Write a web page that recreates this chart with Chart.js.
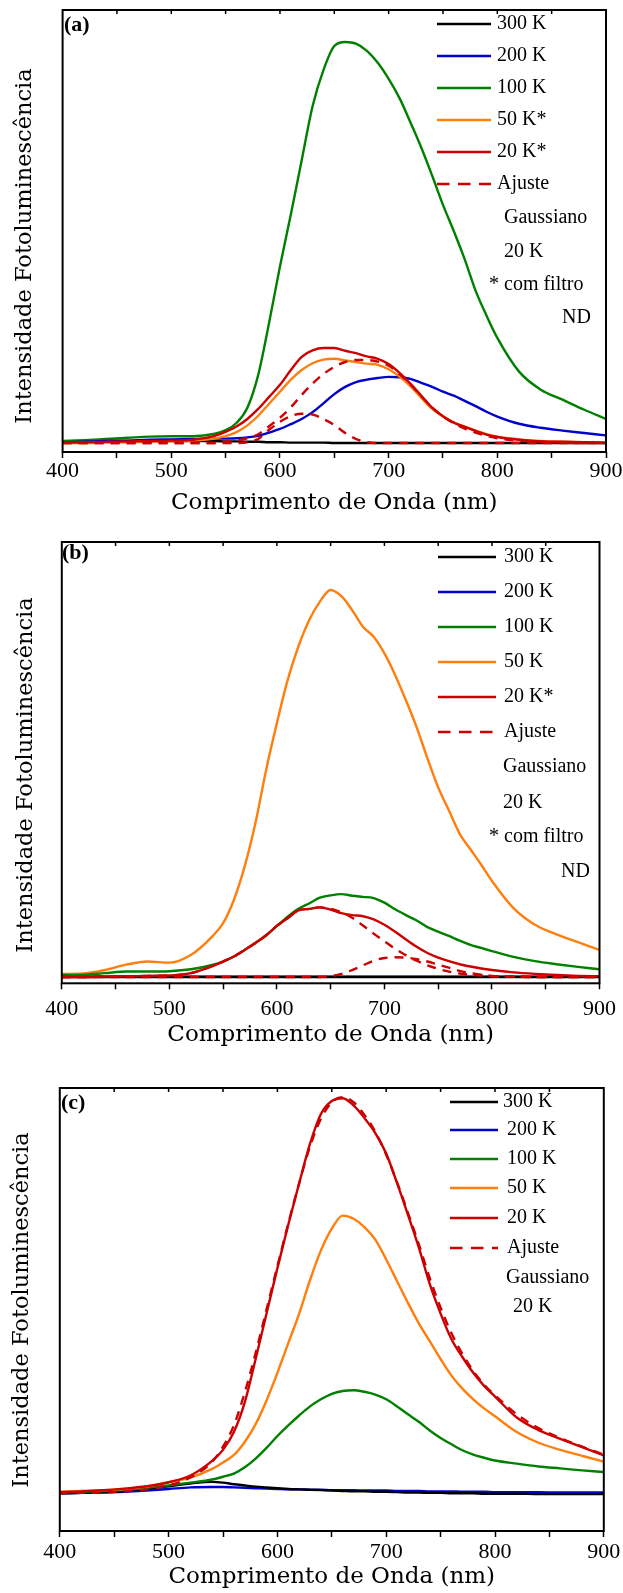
<!DOCTYPE html>
<html lang="pt">
<head>
<meta charset="utf-8">
<title>Fotoluminescência</title>
<script src="https://cdn.jsdelivr.net/npm/chart.js@4.4.1/dist/chart.umd.min.js"></script>
<style>
  html, body { margin: 0; padding: 0; background: #fff; }
  body { width: 623px; height: 1593px; position: relative; overflow: hidden; }
  .panel { position: absolute; left: 0; width: 623px; }
</style>
</head>
<body>
<div class="panel" style="top:0px;height:522px"><canvas id="panelA" width="623" height="522"></canvas></div>
<div class="panel" style="top:522px;height:540px"><canvas id="panelB" width="623" height="540"></canvas></div>
<div class="panel" style="top:1062px;height:531px"><canvas id="panelC" width="623" height="531"></canvas></div>
<script>
// wavelength grid (nm)
const nm = [400, 420, 440, 460, 480, 500, 520, 540,
  550, 560, 570, 580, 590, 600, 610, 620, 630, 640,
  650, 660, 670, 680, 690, 700, 710, 720, 730, 740,
  750, 760, 770, 780, 790, 800,
  820, 840, 860, 880, 900];

const xTicks = [400, 500, 600, 700, 800, 900];

// (a) normalised PL intensity
const a300 = [0.002, 0.003, 0.004, 0.005, 0.005, 0.005, 0.005, 0.005,
  0.004, 0.004, 0.003, 0.003, 0.002, 0.002, 0.001, 0.001, 0.001, 0.001,
  0, 0, 0, 0, 0, 0, 0, 0, 0, 0,
  0, 0, 0, 0, 0, 0,
  0, 0, 0, 0, 0];
const a200 = [0.002, 0.003, 0.005, 0.006, 0.008, 0.009, 0.010, 0.011,
  0.011, 0.012, 0.014, 0.018, 0.026, 0.035, 0.047, 0.060, 0.077, 0.099,
  0.122, 0.140, 0.152, 0.158, 0.162, 0.165, 0.164, 0.160, 0.150, 0.140,
  0.128, 0.118, 0.105, 0.092, 0.078, 0.066,
  0.048, 0.038, 0.031, 0.025, 0.019];
const a100 = [0.005, 0.007, 0.010, 0.013, 0.016, 0.017, 0.017, 0.023,
  0.032, 0.050, 0.088, 0.170, 0.300, 0.440, 0.570, 0.705, 0.840, 0.930,
  0.990, 1.000, 0.996, 0.978, 0.948, 0.908, 0.860, 0.800, 0.737, 0.667,
  0.594, 0.528, 0.458, 0.380, 0.318, 0.262,
  0.178, 0.133, 0.108, 0.083, 0.060];
const a50 = [0.000, 0.000, 0.001, 0.002, 0.003, 0.004, 0.006, 0.011,
  0.017, 0.027, 0.044, 0.068, 0.098, 0.128, 0.158, 0.182, 0.199, 0.208,
  0.210, 0.206, 0.202, 0.198, 0.195, 0.184, 0.166, 0.142, 0.113, 0.085,
  0.066, 0.051, 0.041, 0.031, 0.022, 0.016,
  0.009, 0.005, 0.003, 0.002, 0.001];
const a20 = [0.001, 0.002, 0.003, 0.004, 0.005, 0.006, 0.008, 0.018,
  0.028, 0.041, 0.060, 0.085, 0.115, 0.145, 0.182, 0.215, 0.231, 0.237,
  0.237, 0.230, 0.224, 0.216, 0.210, 0.197, 0.175, 0.148, 0.118, 0.088,
  0.067, 0.051, 0.040, 0.030, 0.021, 0.015,
  0.008, 0.004, 0.003, 0.002, 0.001];
const aFitLow = [0, 0, 0, 0, 0, 0, 0, 0,
  0, 0, 0.002, 0.010, 0.033, 0.053, 0.067, 0.073, 0.071, 0.060,
  0.045, 0.025, 0.010, 0.002, 0, 0, 0, 0, 0, 0,
  0, 0, 0, 0, 0, 0,
  0, 0, 0, 0, 0];
const aFitHigh = [0, 0, 0, 0, 0, 0, 0, 0,
  0.003, 0.006, 0.012, 0.022, 0.042, 0.063, 0.089, 0.120, 0.148, 0.172,
  0.190, 0.202, 0.207, 0.207, 0.203, 0.193, 0.172, 0.146, 0.117, 0.089,
  0.066, 0.049, 0.036, 0.026, 0.018, 0.012,
  0.006, 0.003, 0.001, 0, 0];

// (b)
const b300 = [0, 0, 0, 0, 0, 0, 0, 0,
  0, 0, 0, 0, 0, 0, 0, 0, 0, 0,
  0, 0, 0, 0, 0, 0, 0, 0, 0, 0,
  0, 0, 0, 0, 0, 0,
  0, 0, 0, 0, 0];
const b200 = [0.001, 0.001, 0.001, 0.001, 0.001, 0.001, 0.001, 0.001,
  0.001, 0.001, 0.001, 0.001, 0.001, 0.001, 0.001, 0.001, 0.001, 0.001,
  0.001, 0.001, 0.001, 0.001, 0.001, 0.001, 0.001, 0.001, 0.001, 0.001,
  0.001, 0.001, 0.001, 0.001, 0.001, 0.001,
  0.001, 0.001, 0.001, 0.001, 0.001];
const b100 = [0.005, 0.006, 0.010, 0.014, 0.014, 0.015, 0.020, 0.031,
  0.040, 0.053, 0.070, 0.088, 0.107, 0.132, 0.156, 0.176, 0.190, 0.205,
  0.211, 0.214, 0.210, 0.207, 0.204, 0.192, 0.175, 0.160, 0.146, 0.129,
  0.117, 0.106, 0.094, 0.083, 0.075, 0.067,
  0.052, 0.041, 0.033, 0.026, 0.020];
const b50 = [0.008, 0.009, 0.018, 0.032, 0.040, 0.037, 0.057, 0.105,
  0.139, 0.199, 0.285, 0.397, 0.535, 0.656, 0.767, 0.854, 0.922, 0.970,
  1.000, 0.984, 0.948, 0.905, 0.879, 0.836, 0.780, 0.715, 0.645, 0.565,
  0.490, 0.430, 0.370, 0.330, 0.290, 0.248,
  0.178, 0.135, 0.110, 0.090, 0.070];
const b20 = [0.000, 0.000, 0.001, 0.002, 0.003, 0.004, 0.010, 0.028,
  0.040, 0.053, 0.070, 0.088, 0.108, 0.132, 0.152, 0.172, 0.176, 0.180,
  0.174, 0.165, 0.160, 0.157, 0.149, 0.135, 0.117, 0.097, 0.078, 0.062,
  0.050, 0.041, 0.033, 0.027, 0.022, 0.018,
  0.012, 0.008, 0.005, 0.003, 0.002];
const bFitLow = [0.000, 0.000, 0.001, 0.002, 0.003, 0.004, 0.010, 0.028,
  0.040, 0.053, 0.070, 0.088, 0.108, 0.132, 0.152, 0.172, 0.176, 0.180,
  0.176, 0.167, 0.153, 0.133, 0.112, 0.092, 0.073, 0.056, 0.042, 0.030,
  0.021, 0.014, 0.009, 0.006, 0.004, 0.002,
  0.001, 0, 0, 0, 0];
const bFitHigh = [0, 0, 0, 0, 0, 0, 0, 0,
  0, 0, 0, 0, 0, 0, 0, 0, 0, 0,
  0.002, 0.008, 0.018, 0.030, 0.042, 0.049, 0.051, 0.050, 0.046, 0.040,
  0.032, 0.024, 0.016, 0.010, 0.006, 0.003,
  0.001, 0, 0, 0, 0];

// (c)
const c300 = [0.000, 0.001, 0.003, 0.006, 0.012, 0.018, 0.025, 0.029,
  0.027, 0.023, 0.020, 0.017, 0.015, 0.013, 0.011, 0.010, 0.009, 0.008,
  0.007, 0.006, 0.005, 0.005, 0.004, 0.004, 0.003, 0.002, 0.002, 0.001,
  0.001, 0.000, 0.000, 0.000, -0.001, -0.001,
  -0.001, -0.002, -0.002, -0.002, -0.002];
const c200 = [0.000, 0.001, 0.002, 0.004, 0.007, 0.011, 0.015, 0.016,
  0.016, 0.015, 0.014, 0.013, 0.012, 0.011, 0.010, 0.010, 0.009, 0.009,
  0.008, 0.008, 0.008, 0.007, 0.007, 0.007, 0.006, 0.006, 0.006, 0.005,
  0.005, 0.005, 0.004, 0.004, 0.004, 0.003,
  0.003, 0.003, 0.002, 0.002, 0.002];
const c100 = [0.003, 0.004, 0.006, 0.009, 0.014, 0.020, 0.027, 0.035,
  0.042, 0.050, 0.066, 0.088, 0.115, 0.145, 0.172, 0.197, 0.220, 0.238,
  0.252, 0.259, 0.261, 0.257, 0.250, 0.238, 0.220, 0.200, 0.181, 0.159,
  0.140, 0.124, 0.109, 0.098, 0.090, 0.083,
  0.075, 0.068, 0.063, 0.058, 0.054];
const c50 = [0.004, 0.006, 0.008, 0.011, 0.017, 0.028, 0.040, 0.062,
  0.078, 0.097, 0.130, 0.175, 0.235, 0.305, 0.380, 0.455, 0.540, 0.615,
  0.670, 0.703, 0.695, 0.674, 0.642, 0.592, 0.537, 0.482, 0.430, 0.385,
  0.340, 0.298, 0.265, 0.238, 0.215, 0.195,
  0.155, 0.128, 0.110, 0.095, 0.080];
const c20 = [0.003, 0.005, 0.008, 0.012, 0.018, 0.028, 0.045, 0.082,
  0.110, 0.155, 0.230, 0.340, 0.455, 0.570, 0.680, 0.785, 0.885, 0.960,
  0.993, 1.000, 0.982, 0.950, 0.912, 0.860, 0.785, 0.705, 0.622, 0.530,
  0.455, 0.390, 0.345, 0.305, 0.272, 0.245,
  0.192, 0.160, 0.138, 0.117, 0.096];
const cFit = [0.000, 0.001, 0.002, 0.005, 0.010, 0.020, 0.040, 0.080,
  0.118, 0.172, 0.255, 0.355, 0.465, 0.575, 0.683, 0.785, 0.878, 0.948,
  0.990, 1.003, 0.990, 0.958, 0.915, 0.857, 0.787, 0.710, 0.630, 0.545,
  0.470, 0.405, 0.353, 0.310, 0.275, 0.248,
  0.200, 0.165, 0.140, 0.118, 0.098];

const BLACK = "#000000";
const BLUE = "#0000cd";
const GREEN = "#008000";
const ORANGE = "#ff7f0e";
const RED = "#cc0000";
const FIT_DASH = [9, 7];

function series(values, color, dash) {
  return {
    data: nm.map((x, i) => ({ x: x, y: values[i] })),
    borderColor: color,
    backgroundColor: color,
    borderWidth: 2.4,
    borderDash: dash || [],
    pointRadius: 0,
    fill: false,
    cubicInterpolationMode: "monotone",
  };
}

// frame, panel letter, rotated y title and the in-plot legend
const panelDecor = {
  id: "panelDecor",
  afterDraw(chart, args, opts) {
    const ctx = chart.ctx;
    const area = chart.chartArea;
    const xs = chart.scales.x;
    ctx.save();

    ctx.strokeStyle = "#000";
    ctx.lineWidth = 2;
    ctx.strokeRect(area.left, area.top, area.right - area.left, area.bottom - area.top);

    // small inward ticks on the top edge
    ctx.lineWidth = 1.5;
    ctx.beginPath();
    for (let v = 450; v < 900; v += 50) {
      const px = xs.getPixelForValue(v);
      ctx.moveTo(px, area.top);
      ctx.lineTo(px, area.top + 4);
    }
    ctx.stroke();

    ctx.fillStyle = "#000";
    ctx.textBaseline = "middle";
    ctx.textAlign = "left";
    ctx.font = 'bold 22px "Liberation Serif"';
    ctx.fillText(opts.letter.text, opts.letter.x, opts.letter.y);

    ctx.save();
    ctx.font = '22.5px "DejaVu Serif"';
    ctx.textAlign = "center";
    ctx.translate(opts.yTitle.x, opts.yTitle.y);
    ctx.rotate(-Math.PI / 2);
    ctx.fillText("Intensidade Fotoluminescência", 0, 0);
    ctx.restore();

    const lg = opts.legend;
    ctx.font = '20px "Liberation Serif"';
    lg.items.forEach((item, i) => {
      const y = lg.rows[i];
      ctx.beginPath();
      ctx.strokeStyle = item.color;
      ctx.lineWidth = 2.4;
      ctx.setLineDash(item.dash ? [12.5, 8.5] : []);
      ctx.moveTo(lg.x0, y);
      ctx.lineTo(lg.x1, y);
      ctx.stroke();
      ctx.setLineDash([]);
      ctx.fillText(item.label, item.tx || lg.tx, y);
    });
    lg.notes.forEach((note) => ctx.fillText(note.text, note.x, note.y));

    ctx.restore();
  },
};

function makePanel(id, p) {
  const ctx = document.getElementById(id).getContext("2d");
  new Chart(ctx, {
    type: "line",
    data: { datasets: p.datasets },
    plugins: [panelDecor],
    options: {
      responsive: false,
      animation: false,
      events: [],
      layout: { padding: { top: p.top, right: p.right, left: 0, bottom: 0 } },
      plugins: {
        legend: { display: false },
        tooltip: { enabled: false },
        panelDecor: p.decor,
      },
      scales: {
        x: {
          type: "linear",
          min: 400,
          max: 900,
          afterFit: (scale) => { scale.height = p.xHeight; },
          afterBuildTicks: (scale) => {
            const ticks = [];
            for (let v = 400; v <= 900; v += 50) ticks.push({ value: v });
            scale.ticks = ticks;
          },
          ticks: {
            autoSkip: false,
            maxRotation: 0,
            padding: p.tickPad,
            color: "#000",
            font: { family: "Liberation Serif", size: 22 },
            callback: (v) => (xTicks.includes(v) ? String(v) : ""),
          },
          grid: {
            drawOnChartArea: false,
            drawTicks: true,
            tickLength: 6,
            tickWidth: 1.5,
            tickColor: "#000",
          },
          border: { display: false },
          title: {
            display: true,
            text: "Comprimento de Onda (nm)",
            color: "#000",
            font: { family: "DejaVu Serif", size: 23 },
            padding: { top: 0, bottom: p.titlePad },
          },
        },
        y: {
          min: p.yMin,
          max: p.yMax,
          afterFit: (scale) => { scale.width = p.yWidth; },
          ticks: { display: false },
          grid: { display: false },
          border: { display: false },
        },
      },
    },
  });
}

document.addEventListener("DOMContentLoaded", function () {
  makePanel("panelA", {
    top: 10, right: 16.4, yWidth: 62.6, xHeight: 70,
    yMin: -0.0224, yMax: 1.0798, tickPad: 0.5, titlePad: 5.2,
    datasets: [
      series(aFitLow, RED, FIT_DASH),
      series(aFitHigh, RED, FIT_DASH),
      series(a20, RED),
      series(a50, ORANGE),
      series(a200, BLUE),
      series(a100, GREEN),
      series(a300, BLACK),
    ],
    decor: {
      letter: { text: "(a)", x: 64, y: 25 },
      yTitle: { x: 25, y: 246 },
      legend: {
        x0: 437, x1: 491, tx: 497,
        rows: [24, 56, 88, 120, 152, 184],
        items: [
          { label: "300 K", color: BLACK },
          { label: "200 K", color: BLUE },
          { label: "100 K", color: GREEN },
          { label: "50 K*", color: ORANGE },
          { label: "20 K*", color: RED },
          { label: "Ajuste", color: RED, dash: true },
        ],
        notes: [
          { text: "Gaussiano", x: 504, y: 218 },
          { text: "20 K", x: 504, y: 252 },
          { text: "* com filtro", x: 489, y: 285 },
          { text: "ND", x: 562, y: 318 },
        ],
      },
    },
  });

  makePanel("panelB", {
    top: 20, right: 16.4, yWidth: 61.8, xHeight: 78.7,
    yMin: -0.0163, yMax: 1.124, tickPad: 7, titlePad: 13.2,
    datasets: [
      series(bFitLow, RED, FIT_DASH),
      series(bFitHigh, RED, FIT_DASH),
      series(b20, RED),
      series(b100, GREEN),
      series(b50, ORANGE),
      series(b300, BLACK),
      series(b200, BLUE),
    ],
    decor: {
      letter: { text: "(b)", x: 62, y: 31 },
      yTitle: { x: 26, y: 253 },
      legend: {
        x0: 438, x1: 496, tx: 504,
        rows: [35, 70, 105, 140, 175, 210],
        items: [
          { label: "300 K", color: BLACK },
          { label: "200 K", color: BLUE },
          { label: "100 K", color: GREEN },
          { label: "50 K", color: ORANGE },
          { label: "20 K*", color: RED },
          { label: "Ajuste", color: RED, dash: true },
        ],
        notes: [
          { text: "Gaussiano", x: 503, y: 245 },
          { text: "20 K", x: 503, y: 281 },
          { text: "* com filtro", x: 489, y: 315 },
          { text: "ND", x: 561, y: 350 },
        ],
      },
    },
  });

  makePanel("panelC", {
    top: 26, right: 19.2, yWidth: 59.8, xHeight: 62,
    yMin: -0.0954, yMax: 1.026, tickPad: 2.5, titlePad: 2.5,
    datasets: [
      series(cFit, RED, FIT_DASH),
      series(c20, RED),
      series(c50, ORANGE),
      series(c100, GREEN),
      series(c300, BLACK),
      series(c200, BLUE),
    ],
    decor: {
      letter: { text: "(c)", x: 61, y: 41 },
      yTitle: { x: 22, y: 248 },
      legend: {
        x0: 450, x1: 498, tx: 507,
        rows: [40, 68, 97, 126, 156, 186],
        items: [
          { label: "300 K", color: BLACK, tx: 503 },
          { label: "200 K", color: BLUE },
          { label: "100 K", color: GREEN },
          { label: "50 K", color: ORANGE },
          { label: "20 K", color: RED },
          { label: "Ajuste", color: RED, dash: true },
        ],
        notes: [
          { text: "Gaussiano", x: 506, y: 216 },
          { text: "20 K", x: 513, y: 245 },
        ],
      },
    },
  });
});
</script>
</body>
</html>
